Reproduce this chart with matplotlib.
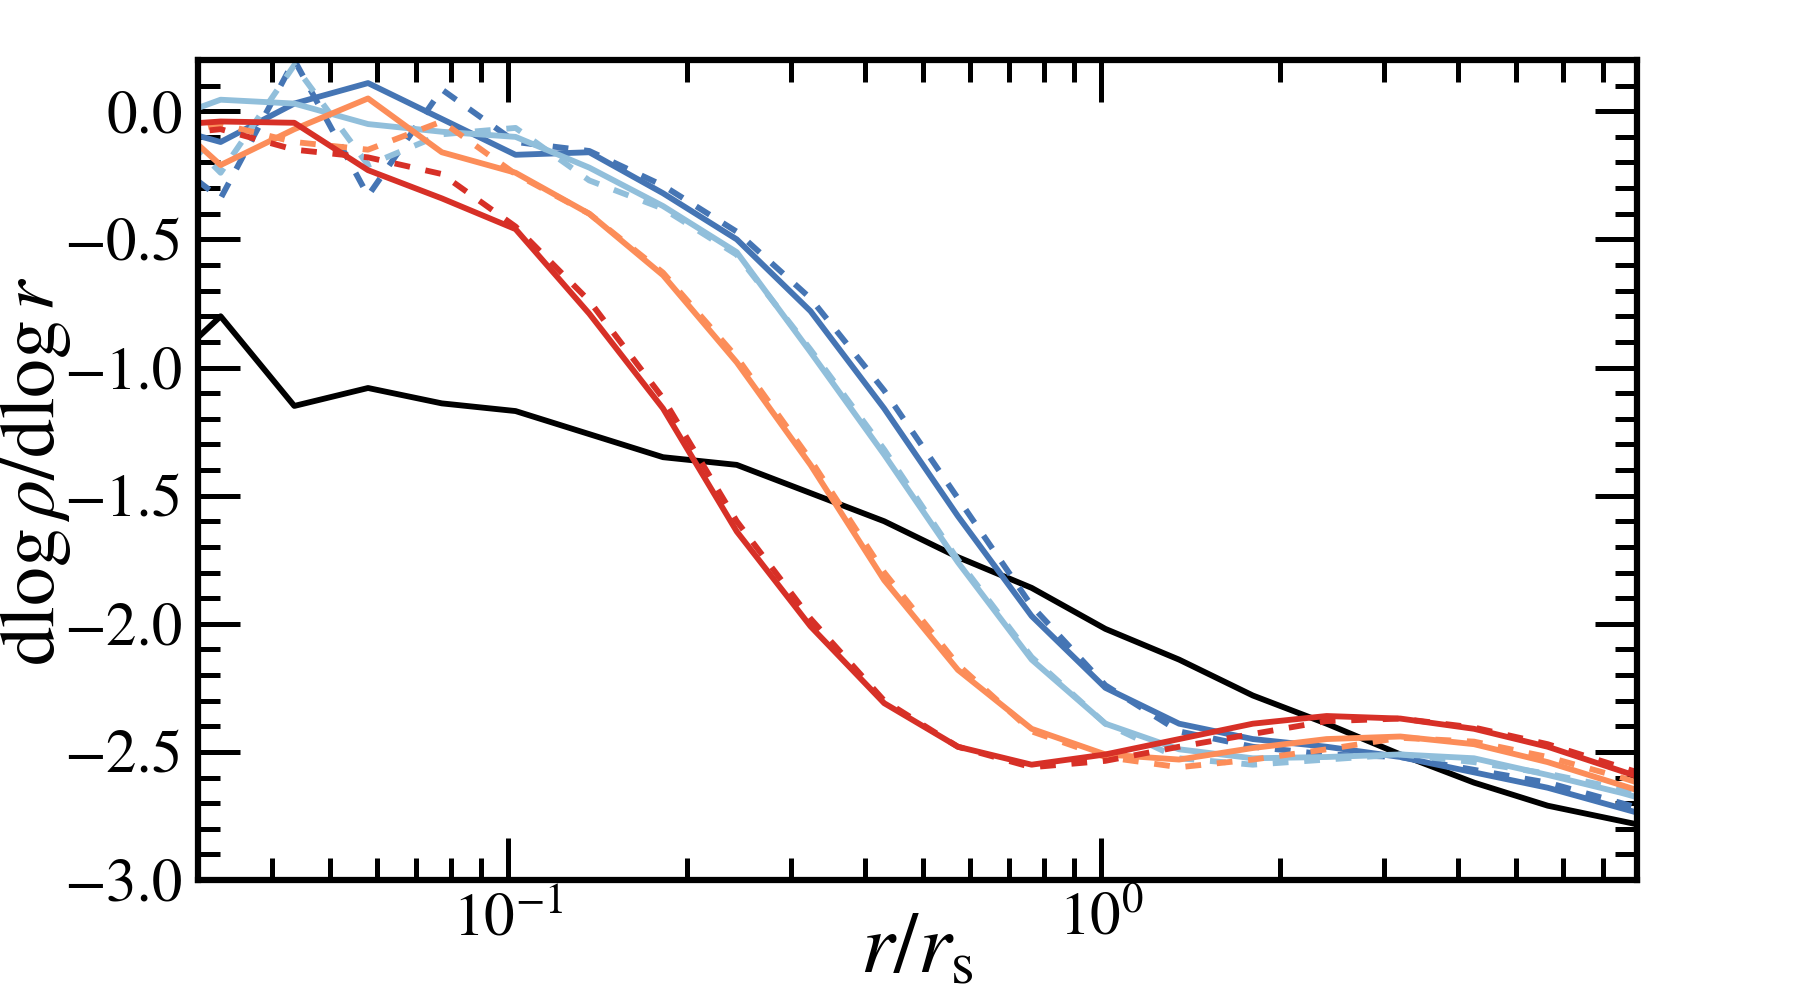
import numpy as np
import matplotlib
matplotlib.use("Agg")
import matplotlib.pyplot as plt
from matplotlib.ticker import MultipleLocator, LogLocator, NullFormatter

plt.rcParams['font.family'] = ['STIXGeneral', 'DejaVu Serif']
plt.rcParams['mathtext.fontset'] = 'stix'

# radial bins r / r_s
r = [0.0246, 0.03275, 0.0436, 0.05805, 0.0773, 0.10292, 0.13703, 0.18245,
     0.24292, 0.32342, 0.43053, 0.57315, 0.76313, 1.016, 1.3528, 1.801,
     2.3983, 3.1932, 4.2506, 5.658, 7.5336, 10.03]

black = [-1.07, -0.80, -1.15, -1.08, -1.14, -1.17, -1.26, -1.35, -1.38, -1.49, -1.60,
         -1.74, -1.86, -2.02, -2.14, -2.28, -2.39, -2.51, -2.62, -2.71, -2.77, -2.83]

blue_solid = [-0.04, -0.12, 0.03, 0.11, -0.03, -0.17, -0.16, -0.32, -0.50, -0.78, -1.16,
              -1.58, -1.97, -2.25, -2.39, -2.45, -2.48, -2.52, -2.58, -2.64, -2.72, -2.80]
blue_dash = [-0.12, -0.34, 0.20, -0.33, 0.085, -0.12, -0.155, -0.29, -0.47, -0.73, -1.09,
             -1.51, -1.93, -2.24, -2.42, -2.48, -2.51, -2.52, -2.57, -2.62, -2.70, -2.78]

lblue_solid = [-0.06, 0.045, 0.03, -0.05, -0.08, -0.10, -0.22, -0.37, -0.55, -0.94, -1.34,
               -1.76, -2.14, -2.39, -2.49, -2.525, -2.52, -2.51, -2.525, -2.59, -2.66, -2.74]
lblue_dash = [0.05, -0.24, 0.18, -0.21, -0.09, -0.065, -0.27, -0.38, -0.56, -0.93, -1.32,
              -1.75, -2.13, -2.39, -2.525, -2.55, -2.53, -2.51, -2.54, -2.585, -2.645, -2.72]

orange_solid = [0.05, -0.21, -0.07, 0.05, -0.16, -0.24, -0.40, -0.64, -0.98, -1.38, -1.83,
                -2.18, -2.41, -2.51, -2.53, -2.485, -2.45, -2.44, -2.47, -2.54, -2.63, -2.72]
orange_dash = [-0.12, -0.05, -0.12, -0.15, -0.04, -0.245, -0.40, -0.63, -0.96, -1.36, -1.80,
               -2.16, -2.42, -2.52, -2.56, -2.53, -2.49, -2.445, -2.46, -2.52, -2.60, -2.69]

red_solid = [-0.06, -0.04, -0.045, -0.23, -0.34, -0.46, -0.79, -1.16, -1.64, -2.01, -2.31,
             -2.48, -2.55, -2.51, -2.45, -2.39, -2.36, -2.37, -2.41, -2.48, -2.575, -2.67]
red_dash = [-0.10, -0.07, -0.15, -0.18, -0.245, -0.45, -0.74, -1.12, -1.60, -1.98, -2.30,
            -2.48, -2.56, -2.535, -2.48, -2.43, -2.38, -2.37, -2.405, -2.47, -2.56, -2.65]

C_BLUE = '#4575b4'
C_LBLUE = '#91bfdb'
C_ORANGE = '#fc8d59'
C_RED = '#d73027'

fig = plt.figure(figsize=(18, 10), dpi=100)
ax = fig.add_axes([0.110, 0.12, 0.7994, 0.82])

lw = 4.2
dash = (2.7, 2.7)
ax.plot(r, black, color='black', lw=lw)
for col, sol, dsh in [(C_BLUE, blue_solid, blue_dash),
                      (C_LBLUE, lblue_solid, lblue_dash),
                      (C_ORANGE, orange_solid, orange_dash),
                      (C_RED, red_solid, red_dash)]:
    ax.plot(r, sol, color=col, lw=lw, solid_capstyle='butt')
    ax.plot(r, dsh, color=col, lw=lw, dashes=dash)

ax.set_xscale('log')
ax.set_xlim(0.03, 8)
ax.set_ylim(-3.0, 0.2)

ax.yaxis.set_major_locator(MultipleLocator(0.5))
ax.yaxis.set_minor_locator(MultipleLocator(0.1))
ax.xaxis.set_major_locator(LogLocator(base=10, numticks=10))
ax.xaxis.set_minor_locator(LogLocator(base=10, subs=np.arange(2, 10), numticks=20))
ax.xaxis.set_minor_formatter(NullFormatter())
ax.yaxis.set_major_formatter(matplotlib.ticker.FuncFormatter(lambda v, p: ('%.1f' % v).replace('-', '\u2212')))

for s in ax.spines.values():
    s.set_linewidth(4.5)
ax.tick_params(which='both', direction='in', top=True, right=True, labelsize=44)
ax.tick_params(which='major', length=30, width=3.6, pad=11)
ax.tick_params(which='minor', length=16, width=3.6)
ax.tick_params(axis='x', which='major', pad=9)

fig.text(36 / 1800, 0.529, r'$\mathrm{dlog}\,\rho/\mathrm{dlog}\,r$', rotation=90,
         ha='center', va='center', fontsize=56)
fig.text(917 / 1800, 1 - 952 / 1000, r'$r/r_{\rm s}$', ha='center', va='center', fontsize=62)

fig.savefig('out.png', dpi=100)
